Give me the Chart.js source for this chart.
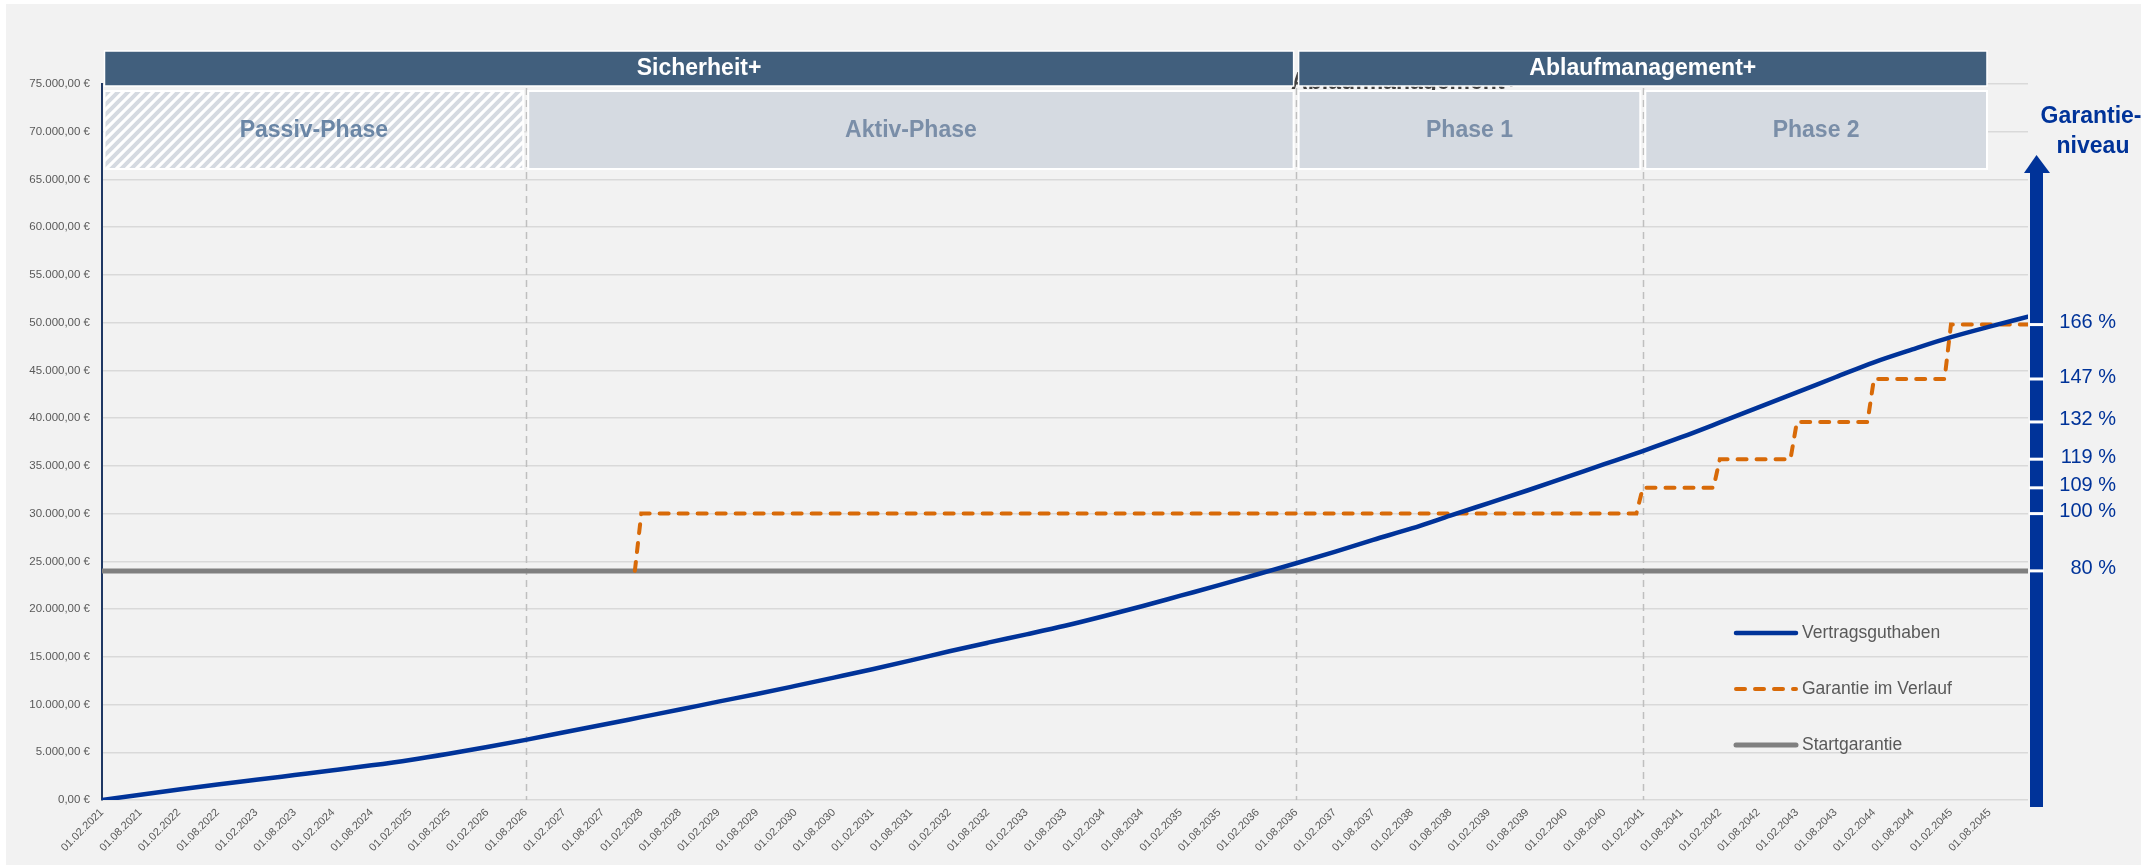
<!DOCTYPE html>
<html lang="de">
<head>
<meta charset="utf-8">
<title>Vertragsguthaben und Garantieniveau</title>
<script src="https://cdn.jsdelivr.net/npm/chart.js@4.4.1/dist/chart.umd.min.js"></script>
<style>
  html, body { margin: 0; padding: 0; background: #fff; overflow: hidden; }
  canvas { display: block; }
</style>
</head>
<body>
<canvas id="garantieChart" width="2149" height="865"></canvas>
<script>
const tickLabels = [
  '01.02.2021', '01.08.2021', '01.02.2022', '01.08.2022', '01.02.2023', '01.08.2023', '01.02.2024', '01.08.2024', '01.02.2025', '01.08.2025',
  '01.02.2026', '01.08.2026', '01.02.2027', '01.08.2027', '01.02.2028', '01.08.2028', '01.02.2029', '01.08.2029', '01.02.2030', '01.08.2030',
  '01.02.2031', '01.08.2031', '01.02.2032', '01.08.2032', '01.02.2033', '01.08.2033', '01.02.2034', '01.08.2034', '01.02.2035', '01.08.2035',
  '01.02.2036', '01.08.2036', '01.02.2037', '01.08.2037', '01.02.2038', '01.08.2038', '01.02.2039', '01.08.2039', '01.02.2040', '01.08.2040',
  '01.02.2041', '01.08.2041', '01.02.2042', '01.08.2042', '01.02.2043', '01.08.2043', '01.02.2044', '01.08.2044', '01.02.2045', '01.08.2045'
];

// Vertragsguthaben, read at every half-year plus the last month
const balanceDates = tickLabels.concat(['01.02.2046']);
const balanceValues = [
  0, 560, 1100, 1620, 2110, 2610, 3110, 3630, 4200, 4850,
  5550, 6300, 7100, 7880, 8680, 9480, 10300, 11100, 11950, 12820,
  13700, 14620, 15580, 16480, 17350, 18250, 19250, 20300, 21400, 22500,
  23650, 24800, 26000, 27250, 28450, 29780, 31100, 32420, 33800, 35170,
  36550, 38000, 39550, 41130, 42700, 44280, 45850, 47200, 48480, 49580,
  50620
];

// Garantie im Verlauf (step line)
const guaranteeDates = [
  '01.01.2028', '01.02.2028', '01.01.2041', '01.02.2041', '01.01.2042', '01.02.2042',
  '01.01.2043', '01.02.2043', '01.01.2044', '01.02.2044', '01.01.2045', '01.02.2045', '01.02.2046'
];
const guaranteeValues = [
  24000, 30000, 30000, 32700, 32700, 35700,
  35700, 39600, 39600, 44100, 44100, 49800, 49800
];

const startDates = ['01.02.2021', '01.02.2046'];
const startValues = [24000, 24000];

const levelValues = [24000, 30000, 32700, 35700, 39600, 44100, 49800];
const levelLabels = ['80 %', '100 %', '109 %', '119 %', '132 %', '147 %', '166 %'];

const headerNames = ['Sicherheit+', 'Ablaufmanagement+'];
const headerBounds = [['01.02.2021', '01.08.2036'], ['01.08.2036', '01.08.2045']];
const phaseNames = ['Passiv-Phase', 'Aktiv-Phase', 'Phase 1', 'Phase 2'];
const phaseBounds = [
  ['01.02.2021', '01.08.2026'],
  ['01.08.2026', '01.08.2036'],
  ['01.08.2036', '01.02.2041'],
  ['01.02.2041', '01.08.2045']
];
const phaseMarkers = ['01.08.2026', '01.08.2036', '01.02.2041'];

const FONT = "'Liberation Sans', Arial, sans-serif";

function monthIndex(date) {
  const parts = date.split('.').map(Number);
  return (parts[2] - 2021) * 12 + (parts[1] - 2);
}

function toPoints(dates, values) {
  return dates.map((d, i) => ({ x: monthIndex(d), y: values[i] }));
}

function euro(v) {
  const s = String(Math.round(v)).replace(/\B(?=(\d{3})+(?!\d))/g, '.');
  return s + ',00 €';
}

function hatchPattern(ctx) {
  const c = document.createElement('canvas');
  c.width = 10;
  c.height = 10;
  const p = c.getContext('2d');
  p.fillStyle = '#ffffff';
  p.fillRect(0, 0, 10, 10);
  p.strokeStyle = '#d5dae1';
  p.lineWidth = 4;
  p.beginPath();
  p.moveTo(-5, 5); p.lineTo(5, -5);
  p.moveTo(0, 10); p.lineTo(10, 0);
  p.moveTo(5, 15); p.lineTo(15, 5);
  p.stroke();
  return ctx.createPattern(c, 'repeat');
}

const panelPlugin = {
  id: 'panel',
  beforeDraw(chart) {
    const ctx = chart.ctx;
    ctx.save();
    ctx.fillStyle = '#ffffff';
    ctx.fillRect(0, 0, chart.width, chart.height);
    ctx.fillStyle = '#f2f2f2';
    ctx.fillRect(6, 4, chart.width - 14, chart.height - 4);
    ctx.restore();
  }
};

const phasePlugin = {
  id: 'phases',
  beforeDatasetsDraw(chart) {
    const ctx = chart.ctx;
    const x = chart.scales.x;
    const bottom = chart.chartArea.bottom;
    ctx.save();

    // dashed phase borders
    ctx.strokeStyle = '#bfbfbf';
    ctx.lineWidth = 1.5;
    ctx.setLineDash([7, 5]);
    phaseMarkers.forEach(d => {
      const px = Math.round(x.getPixelForValue(monthIndex(d))) + 0.5;
      ctx.beginPath();
      ctx.moveTo(px, 88);
      ctx.lineTo(px, bottom);
      ctx.stroke();
    });
    ctx.setLineDash([]);

    // text left behind the second header
    ctx.fillStyle = '#404040';
    ctx.font = 'bold 23px ' + FONT;
    ctx.textAlign = 'left';
    ctx.textBaseline = 'alphabetic';
    ctx.fillText('Ablaufmanagement+', x.getPixelForValue(monthIndex('01.08.2036')) - 5, 89);

    const inset = 2.5;
    // header bars
    headerNames.forEach((name, i) => {
      const x0 = x.getPixelForValue(monthIndex(headerBounds[i][0])) + inset;
      const x1 = x.getPixelForValue(monthIndex(headerBounds[i][1])) - inset;
      ctx.fillStyle = '#415f7d';
      ctx.fillRect(x0, 51, x1 - x0, 35);
      ctx.strokeStyle = '#ffffff';
      ctx.lineWidth = 1.5;
      ctx.strokeRect(x0, 51, x1 - x0, 35);
      ctx.fillStyle = '#ffffff';
      ctx.font = 'bold 23px ' + FONT;
      ctx.textAlign = 'center';
      ctx.textBaseline = 'middle';
      ctx.fillText(name, (x0 + x1) / 2, 69);
    });

    // phase boxes
    const pattern = hatchPattern(ctx);
    phaseNames.forEach((name, i) => {
      const x0 = x.getPixelForValue(monthIndex(phaseBounds[i][0])) + inset;
      const x1 = x.getPixelForValue(monthIndex(phaseBounds[i][1])) - inset;
      ctx.fillStyle = i === 0 ? pattern : '#d5dae1';
      ctx.fillRect(x0, 91, x1 - x0, 78);
      ctx.strokeStyle = '#ffffff';
      ctx.lineWidth = 2;
      ctx.strokeRect(x0, 91, x1 - x0, 78);
      ctx.fillStyle = i === 0 ? '#6a86a6' : '#7a8ea8';
      ctx.font = 'bold 23px ' + FONT;
      ctx.textAlign = 'center';
      ctx.textBaseline = 'middle';
      ctx.fillText(name, (x0 + x1) / 2, 131);
    });
    ctx.restore();
  }
};

const levelAxisPlugin = {
  id: 'levelAxis',
  afterDatasetsDraw(chart) {
    const ctx = chart.ctx;
    const y = chart.scales.y;
    const barLeft = chart.chartArea.right + 2;
    const barWidth = 13;
    ctx.save();
    ctx.fillStyle = '#003399';
    ctx.fillRect(barLeft, 172, barWidth, 635);
    ctx.beginPath();
    ctx.moveTo(barLeft - 6, 173);
    ctx.lineTo(barLeft + barWidth + 7, 173);
    ctx.lineTo(barLeft + barWidth / 2, 155);
    ctx.closePath();
    ctx.fill();

    ctx.font = '20px ' + FONT;
    ctx.textAlign = 'right';
    ctx.textBaseline = 'middle';
    levelValues.forEach((v, i) => {
      const py = y.getPixelForValue(v);
      ctx.fillStyle = '#ffffff';
      ctx.fillRect(barLeft - 1, py - 1.5, barWidth + 2, 3);
      ctx.fillStyle = '#003399';
      ctx.fillText(levelLabels[i], 2116, py - 2);
    });

    ctx.font = 'bold 23px ' + FONT;
    ctx.textAlign = 'center';
    ctx.textBaseline = 'alphabetic';
    ctx.fillText('Garantie-', 2091, 123);
    ctx.fillText('niveau', 2093, 153);
    ctx.restore();
  }
};

const legendPlugin = {
  id: 'sideLegend',
  afterDatasetsDraw(chart) {
    const ctx = chart.ctx;
    ctx.save();
    chart.data.datasets.forEach((ds, i) => {
      const ly = 633 + i * 56;
      ctx.strokeStyle = ds.borderColor;
      ctx.lineWidth = ds.borderWidth;
      ctx.lineCap = 'round';
      ctx.setLineDash(ds.borderDash || []);
      ctx.beginPath();
      ctx.moveTo(1736, ly);
      ctx.lineTo(1796, ly);
      ctx.stroke();
      ctx.setLineDash([]);
      ctx.fillStyle = '#595959';
      ctx.font = '17.5px ' + FONT;
      ctx.textAlign = 'left';
      ctx.textBaseline = 'middle';
      ctx.fillText(ds.label, 1802, ly);
    });
    ctx.restore();
  }
};

new Chart(document.getElementById('garantieChart').getContext('2d'), {
  type: 'line',
  data: {
    datasets: [
      {
        label: 'Vertragsguthaben',
        data: toPoints(balanceDates, balanceValues),
        borderColor: '#003399',
        borderWidth: 4.5,
        borderCapStyle: 'round',
        cubicInterpolationMode: 'monotone',
        pointRadius: 0
      },
      {
        label: 'Garantie im Verlauf',
        data: toPoints(guaranteeDates, guaranteeValues),
        borderColor: '#d86a08',
        borderWidth: 4,
        borderDash: [9, 10],
        borderCapStyle: 'round',
        tension: 0,
        pointRadius: 0
      },
      {
        label: 'Startgarantie',
        data: toPoints(startDates, startValues),
        borderColor: '#808080',
        borderWidth: 5,
        tension: 0,
        pointRadius: 0
      }
    ]
  },
  options: {
    responsive: false,
    devicePixelRatio: 1,
    animation: false,
    layout: { padding: { left: 0, right: 121, top: 84, bottom: 0 } },
    plugins: {
      legend: { display: false },
      tooltip: { enabled: false }
    },
    scales: {
      x: {
        type: 'linear',
        min: monthIndex(balanceDates[0]),
        max: monthIndex(balanceDates[balanceDates.length - 1]),
        afterBuildTicks: scale => {
          scale.ticks = tickLabels.map(d => ({ value: monthIndex(d) }));
        },
        afterFit: scale => { scale.height = 65; },
        grid: { display: false, drawTicks: false },
        border: { display: false },
        ticks: {
          autoSkip: false,
          minRotation: 45,
          maxRotation: 45,
          padding: 6,
          color: '#595959',
          font: { family: FONT, size: 11 },
          callback: (value, index) => tickLabels[index]
        }
      },
      y: {
        min: 0,
        max: 75000,
        afterFit: scale => { scale.width = 102; },
        grid: { color: '#d9d9d9', lineWidth: 1.5, drawTicks: false },
        border: { color: '#1f3864', width: 2 },
        ticks: {
          stepSize: 5000,
          padding: 12,
          color: '#595959',
          font: { family: FONT, size: 11.5 },
          callback: v => euro(v)
        }
      }
    }
  },
  plugins: [panelPlugin, phasePlugin, levelAxisPlugin, legendPlugin]
});
</script>
</body>
</html>
